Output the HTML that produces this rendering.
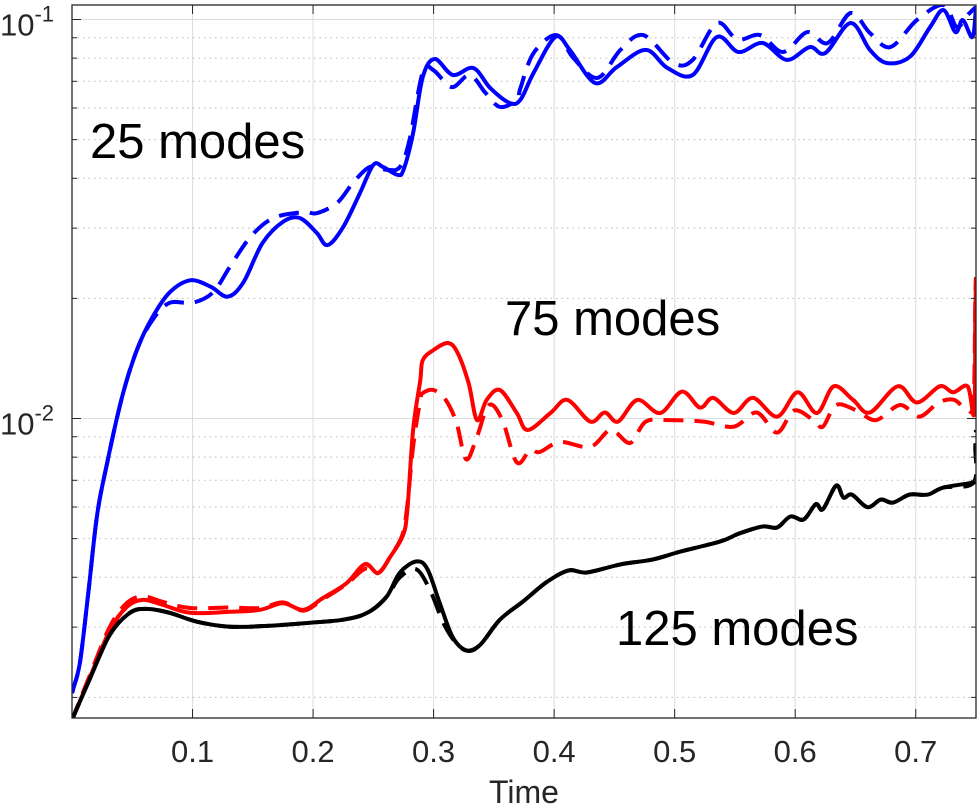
<!DOCTYPE html>
<html><head><meta charset="utf-8"><style>
html,body{margin:0;padding:0;background:#fff;}
svg{display:block;font-family:"Liberation Sans",Arial,sans-serif;}
</style></head><body>
<svg id="chart" width="979" height="808" viewBox="0 0 979 808" xmlns="http://www.w3.org/2000/svg">
<defs><clipPath id="clip"><rect x="72" y="5" width="904" height="713"/></clipPath></defs>
<g id="grid"></g>
<g id="series" clip-path="url(#clip)"></g>
<g id="axes"></g>
<text x="90" y="158" font-size="49" fill="#000">25 modes</text>
<text x="505" y="335" font-size="49" fill="#000">75 modes</text>
<text x="616" y="645" font-size="49" fill="#000">125 modes</text>
<text x="524" y="803" font-size="32" fill="#262626" text-anchor="middle">Time</text>
</svg>
<script>
const xTicks = [0.1,0.2,0.3,0.4,0.5,0.6,0.7];
const xTickLabels = ["0.1","0.2","0.3","0.4","0.5","0.6","0.7"];
const yMajor = [0.01,0.1];
const yMajorLabels = ["-2","-1"];
const yMinor = [0.002,0.003,0.004,0.005,0.006,0.007,0.008,0.009,0.02,0.03,0.04,0.05,0.06,0.07,0.08,0.09];

const blueSolidT = [0.0,0.001,0.0066,0.0133,0.0207,0.029,0.0415,0.054,0.067,0.081,0.098,0.115,0.129,0.142,0.158,0.175,0.189,0.203,0.212,0.225,0.239,0.25,0.258,0.27,0.275,0.283,0.291,0.301,0.316,0.333,0.347,0.363,0.372,0.383,0.401,0.413,0.434,0.452,0.476,0.494,0.515,0.535,0.553,0.573,0.593,0.612,0.625,0.646,0.662,0.676,0.695,0.712,0.723,0.733,0.739,0.747,0.75];
const blueSolidV = [0.00205,0.0021,0.00245,0.0036,0.0057,0.0077,0.0113,0.0149,0.018,0.0207,0.0222,0.0214,0.0202,0.0219,0.0275,0.0311,0.0318,0.0292,0.0272,0.0302,0.0368,0.0432,0.0427,0.0408,0.042,0.0519,0.0718,0.0796,0.0726,0.0756,0.0673,0.0618,0.0629,0.0735,0.0904,0.0839,0.0693,0.076,0.0839,0.0756,0.0726,0.0904,0.0829,0.0873,0.0792,0.0853,0.0824,0.098,0.0839,0.0778,0.0806,0.0958,0.1056,0.093,0.0997,0.0904,0.1075];
const blueDashT = [0.0,0.001,0.0066,0.0133,0.0207,0.029,0.0415,0.054,0.067,0.081,0.100,0.117,0.131,0.148,0.167,0.192,0.203,0.22,0.233,0.247,0.261,0.272,0.28,0.291,0.3,0.315,0.33,0.343,0.355,0.369,0.372,0.383,0.402,0.416,0.436,0.455,0.474,0.499,0.515,0.535,0.552,0.571,0.59,0.61,0.627,0.646,0.662,0.679,0.701,0.723,0.734,0.743,0.75];
const blueDashV = [0.00205,0.0021,0.00245,0.0036,0.0057,0.0077,0.0113,0.0149,0.0177,0.0195,0.0195,0.0207,0.024,0.0285,0.0318,0.0329,0.0327,0.0347,0.0389,0.0427,0.042,0.0427,0.0499,0.0738,0.0746,0.0677,0.0726,0.0655,0.0604,0.0629,0.0673,0.0824,0.0914,0.0801,0.0714,0.0839,0.0914,0.0778,0.0792,0.098,0.0891,0.0914,0.0829,0.093,0.0873,0.1038,0.0925,0.0853,0.0997,0.1087,0.0958,0.1026,0.1075];

const redSolidT = [0.0,0.001,0.015,0.0315,0.0456,0.059,0.0755,0.098,0.131,0.156,0.175,0.192,0.208,0.228,0.243,0.254,0.264,0.274,0.278,0.283,0.289,0.291,0.3,0.312,0.32,0.329,0.336,0.344,0.355,0.369,0.378,0.397,0.411,0.43,0.442,0.453,0.469,0.488,0.506,0.521,0.532,0.549,0.565,0.585,0.602,0.618,0.632,0.648,0.662,0.685,0.701,0.72,0.731,0.743,0.7485,0.7494,0.75];
const redSolidV = [0.00175,0.001786,0.002249,0.00295,0.003373,0.00351,0.00341,0.003258,0.003277,0.003315,0.003445,0.003315,0.003546,0.00387,0.004317,0.0041,0.0045,0.00505,0.0058,0.00936,0.01248,0.01401,0.01485,0.01546,0.01459,0.01227,0.00991,0.01113,0.01179,0.01032,0.00936,0.01032,0.01113,0.00982,0.01035,0.00982,0.01113,0.01032,0.01168,0.01065,0.01126,0.01032,0.01126,0.01011,0.01163,0.01032,0.01204,0.01113,0.01035,0.01204,0.01097,0.01204,0.01163,0.01204,0.01032,0.01800,0.02262];
const redDashT = [0.0,0.001,0.015,0.0315,0.0456,0.059,0.0755,0.098,0.131,0.156,0.175,0.192,0.208,0.228,0.243,0.254,0.264,0.274,0.278,0.283,0.289,0.291,0.3,0.31,0.319,0.327,0.336,0.346,0.357,0.369,0.38,0.388,0.405,0.43,0.447,0.463,0.476,0.496,0.524,0.549,0.568,0.585,0.599,0.615,0.623,0.634,0.651,0.667,0.687,0.703,0.719,0.732,0.743,0.748,0.7494,0.75];
const redDashV = [0.00175,0.001786,0.00228,0.00301,0.00345,0.00358,0.00347,0.00335,0.00336,0.00335,0.00346,0.0033,0.00352,0.00385,0.0042,0.0041,0.0045,0.0051,0.0060,0.0085,0.01113,0.01158,0.01179,0.01113,0.00976,0.0079,0.00901,0.01081,0.00991,0.00776,0.00834,0.00824,0.00873,0.00849,0.00936,0.00868,0.00982,0.00991,0.00982,0.00954,0.01035,0.00922,0.01047,0.00991,0.00954,0.01081,0.01047,0.00991,0.01081,0.01011,0.01097,0.01113,0.01047,0.01113,0.0200,0.02262];

const blackSolidT = [0.0,0.001,0.015,0.0315,0.048,0.062,0.081,0.104,0.131,0.164,0.1975,0.225,0.245,0.261,0.272,0.286,0.295,0.305,0.316,0.328,0.339,0.355,0.374,0.394,0.412,0.427,0.455,0.482,0.505,0.538,0.554,0.573,0.585,0.596,0.607,0.617,0.623,0.634,0.64,0.647,0.66,0.671,0.681,0.695,0.71,0.723,0.748,0.75];
const blackSolidV = [0.00175,0.001786,0.002234,0.002875,0.003258,0.003333,0.003258,0.003094,0.003007,0.003025,0.003077,0.003131,0.003258,0.003575,0.004112,0.004383,0.004184,0.003454,0.002826,0.002619,0.002716,0.003131,0.003475,0.003895,0.004162,0.004112,0.004308,0.004434,0.004642,0.004919,0.005155,0.005363,0.005332,0.00568,0.005583,0.006096,0.005924,0.006791,0.006335,0.006445,0.005993,0.006263,0.006154,0.006445,0.006445,0.006714,0.006908,0.00700];
const blackDashT = [0.0,0.001,0.015,0.0315,0.048,0.062,0.081,0.104,0.131,0.164,0.1975,0.225,0.245,0.261,0.272,0.286,0.298,0.308,0.318,0.328,0.339,0.355,0.374,0.394,0.412,0.427,0.455,0.482,0.505,0.538,0.554,0.573,0.585,0.596,0.607,0.617,0.623,0.634,0.64,0.647,0.66,0.671,0.681,0.695,0.71,0.723,0.748,0.7494,0.75];
const blackDashV = [0.00175,0.001786,0.002234,0.002875,0.003258,0.003333,0.003258,0.003094,0.003007,0.003025,0.003077,0.003131,0.003258,0.003575,0.004,0.004184,0.003657,0.003077,0.002752,0.002619,0.002716,0.003131,0.003475,0.003895,0.004162,0.004112,0.004308,0.004434,0.004642,0.004919,0.005155,0.005363,0.005332,0.00568,0.005583,0.006096,0.005924,0.006791,0.006335,0.006445,0.005993,0.006263,0.006154,0.006445,0.006445,0.006714,0.006908,0.0085,0.00936];

const X0=72, X1=976, Y0=5, Y1=718;
const tMin=0, tMax=0.75;
const yRef=19.5, decade=399;
function xScale(t){ return X0 + (t-tMin)/(tMax-tMin)*(X1-X0); }
function yScale(v){ return yRef + (-1 - Math.log10(v))*decade; }
const NS="http://www.w3.org/2000/svg";
function mk(tag, attrs, parent){ const e=document.createElementNS(NS,tag); for(const k in attrs) e.setAttribute(k,attrs[k]); parent.appendChild(e); return e; }

const grid=document.getElementById('grid');
const axes=document.getElementById('axes');
const series=document.getElementById('series');

xTicks.forEach((t,i)=>{
  const x=xScale(t);
  const g=mk('line',{x1:x,x2:x,y1:Y0,y2:Y1,stroke:'#dcdcdc','stroke-width':1},grid);
  
  
  const a=mk('line',{x1:x,x2:x,y1:Y1,y2:Y1-9,stroke:'#262626','stroke-width':1},axes);
  
  
  const b=mk('line',{x1:x,x2:x,y1:Y0,y2:Y0+9,stroke:'#262626','stroke-width':1},axes);
  
  
  const tx=mk('text',{x:x,y:762,'font-size':31,fill:'#262626','text-anchor':'middle'},axes);
  tx.textContent=xTickLabels[i];
  
  
});
yMinor.forEach(v=>{
  const y=yScale(v);
  const g=mk('line',{x1:X0,x2:X1,y1:y,y2:y,stroke:'#bbbbbb','stroke-width':1,'stroke-dasharray':'1.5 4'},grid);
  
  
  const a=mk('line',{x1:X0,x2:X0+5,y1:y,y2:y,stroke:'#262626','stroke-width':1},axes);
  
  
  const b=mk('line',{x1:X1,x2:X1-5,y1:y,y2:y,stroke:'#262626','stroke-width':1},axes);
  
  
});
yMajor.forEach((v,i)=>{
  const y=yScale(v);
  const g=mk('line',{x1:X0,x2:X1,y1:y,y2:y,stroke:'#dcdcdc','stroke-width':1},grid);
  
  
  const a=mk('line',{x1:X0,x2:X0+9,y1:y,y2:y,stroke:'#262626','stroke-width':1},axes);
  
  
  const b=mk('line',{x1:X1,x2:X1-9,y1:y,y2:y,stroke:'#262626','stroke-width':1},axes);
  
  
  const tx=mk('text',{x:0,y:y+16,'font-size':31,fill:'#262626'},axes);
  
  
  tx.appendChild(document.createTextNode('10'));
  const sp=mk('tspan',{dy:-14,'font-size':22},tx);
  sp.textContent=yMajorLabels[i];
});
const box=mk('rect',{x:X0,y:Y0,width:X1-X0,height:Y1-Y0,fill:'none',stroke:'#262626','stroke-width':1.3},axes);



function pathD(T,V){
  const p=T.map((t,i)=>[xScale(t),yScale(V[i])]);
  let d='M'+p[0][0].toFixed(1)+','+p[0][1].toFixed(1);
  for(let i=0;i<p.length-1;i++){
    const p0=p[Math.max(0,i-1)],p1=p[i],p2=p[i+1],p3=p[Math.min(p.length-1,i+2)];
    const c1=[p1[0]+(p2[0]-p0[0])/6,p1[1]+(p2[1]-p0[1])/6];
    const c2=[p2[0]-(p3[0]-p1[0])/6,p2[1]-(p3[1]-p1[1])/6];
    d+=' C'+c1[0].toFixed(1)+','+c1[1].toFixed(1)+' '+c2[0].toFixed(1)+','+c2[1].toFixed(1)+' '+p2[0].toFixed(1)+','+p2[1].toFixed(1);
  }
  return d;
}
function draw(T,V,color,dashed,name){
  const e=mk('path',{d:pathD(T,V),fill:'none',stroke:color,'stroke-width':4,'stroke-linejoin':'round'},series);
  if(dashed) e.setAttribute('stroke-dasharray','20 11');
  
  
}
draw(blueDashT,blueDashV,'#0000ff',true,'line-25-modes-dashed');
draw(blueSolidT,blueSolidV,'#0000ff',false,'line-25-modes-solid');
draw(redDashT,redDashV,'#ff0000',true,'line-75-modes-dashed');
draw(redSolidT,redSolidV,'#ff0000',false,'line-75-modes-solid');
draw(blackDashT,blackDashV,'#000000',true,'line-125-modes-dashed');
draw(blackSolidT,blackSolidV,'#000000',false,'line-125-modes-solid');
</script>
</body></html>
